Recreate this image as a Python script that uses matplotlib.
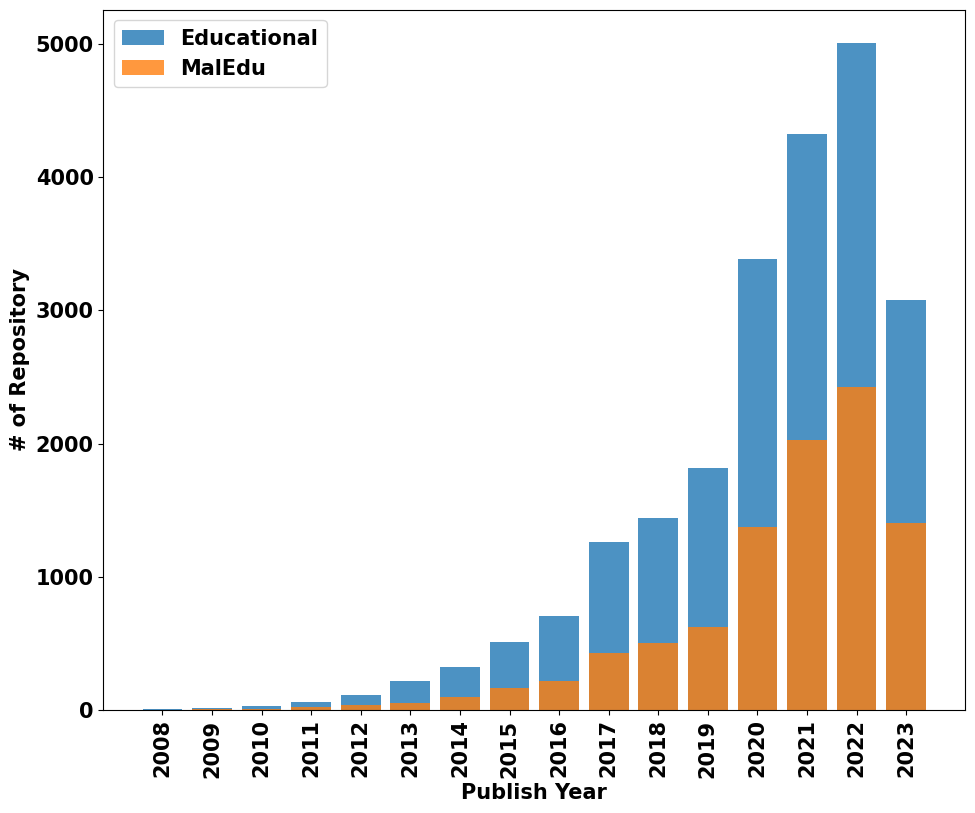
import numpy as np
from matplotlib import pyplot as plt

years = [str(y) for y in range(2008, 2024)]
educational = [7, 15, 30, 60, 113, 218, 323, 510, 706, 1261, 1441, 1817, 3386, 4324, 5008, 3078]
maledu = [1, 3, 6, 17, 32, 53, 98, 165, 218, 428, 503, 623, 1374, 2027, 2425, 1404]

plt.rcParams['font.weight'] = 'bold'
plt.rcParams['font.size'] = 15

fig, ax = plt.subplots(figsize=(9.75, 8.13), dpi=100)
x = np.arange(len(years))
ax.bar(x, educational, color='tab:blue', alpha=0.8, label='Educational')
ax.bar(x, maledu, color='tab:orange', alpha=0.8, label='MalEdu')

ax.set_xticks(x)
ax.set_xticklabels(years, rotation=90, fontweight='bold')
ax.set_xlabel('Publish Year', fontweight='bold')
ax.set_ylabel('# of Repository', fontweight='bold')
ax.legend(loc='upper left')

plt.subplots_adjust(left=0.106, right=0.99, top=0.988, bottom=0.127)
plt.savefig('out.png')
